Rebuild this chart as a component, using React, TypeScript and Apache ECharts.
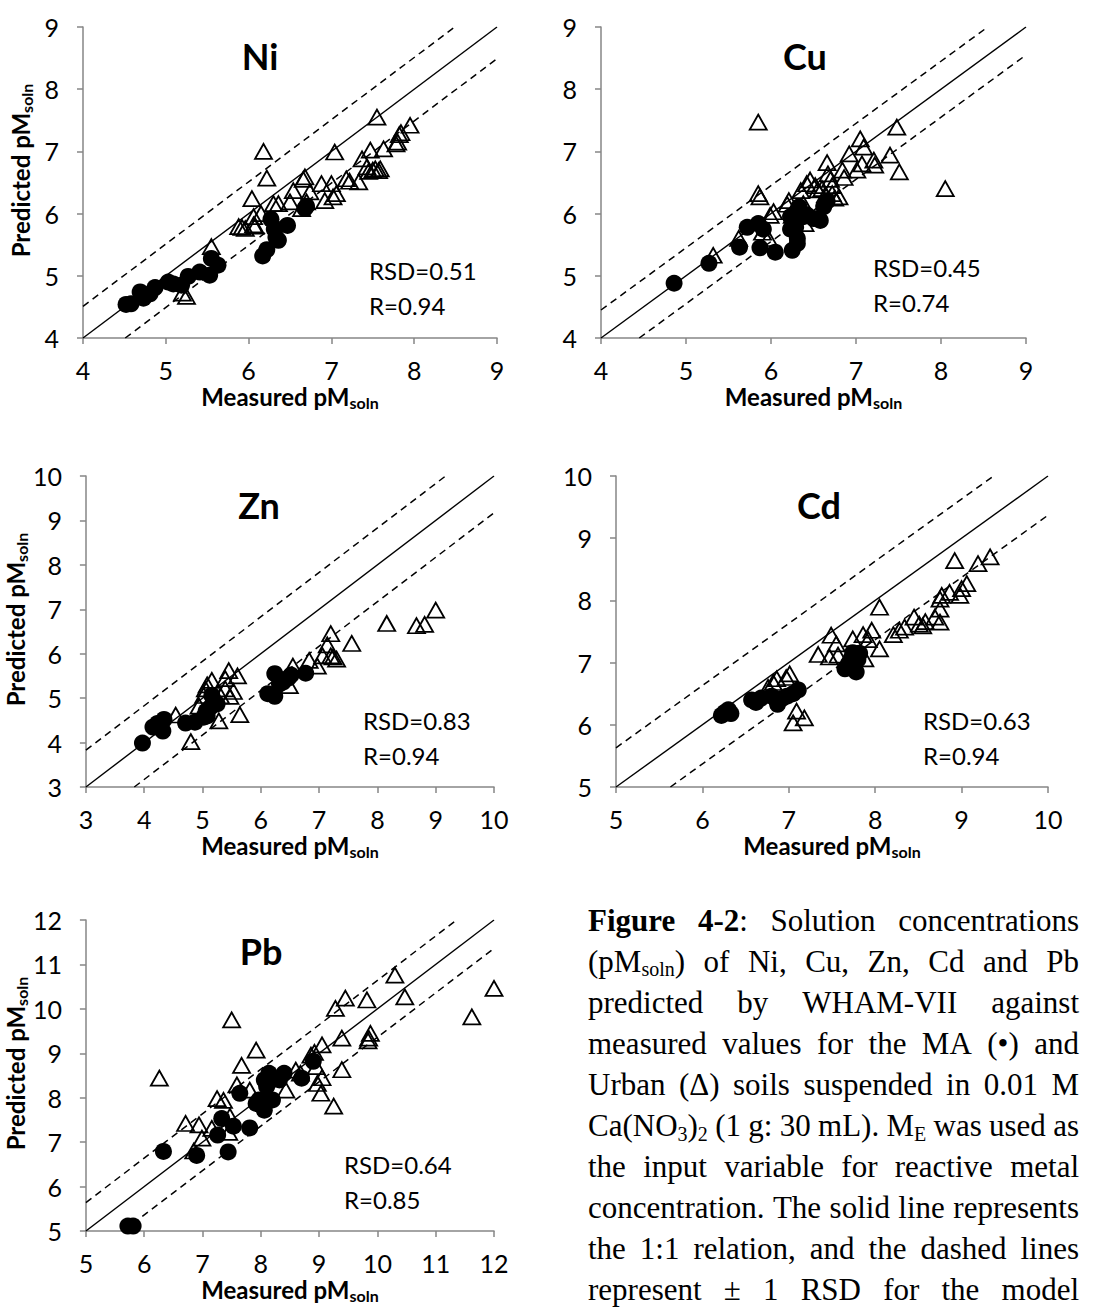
import React, { useEffect, useRef } from "react";
import * as echarts from "echarts";

// ---------------- data ----------------
const metals = ["Ni", "Cu", "Zn", "Cd", "Pb"];
const axisMin = [4, 4, 3, 5, 5];
const axisMax = [9, 9, 10, 10, 12];
const rsdValues = [0.51, 0.45, 0.83, 0.63, 0.64];
const rValues = [0.94, 0.74, 0.94, 0.94, 0.85];
const showYName = [true, false, true, false, true];

const niMA = [
  [4.52, 4.54], [4.58, 4.55], [4.69, 4.74], [4.73, 4.64], [4.81, 4.71], [4.87, 4.81],
  [5.03, 4.9], [5.09, 4.87], [5.19, 4.85], [5.27, 4.99], [5.41, 5.06], [5.53, 5.01],
  [5.55, 5.28], [5.63, 5.17], [6.17, 5.32], [6.22, 5.42], [6.27, 5.91], [6.31, 5.75],
  [6.33, 5.62], [6.36, 5.57], [6.47, 5.81], [6.68, 6.08], [6.7, 6.12],
];
const niUrban = [
  [5.2, 4.72], [5.25, 4.67], [5.55, 5.47], [5.88, 5.79], [5.92, 5.78], [5.96, 5.76],
  [6.06, 5.82], [6.08, 5.8], [6.04, 6.24], [6.06, 5.95], [6.18, 7.0], [6.22, 6.57],
  [6.15, 6.0], [6.3, 6.16], [6.36, 6.16], [6.5, 6.19], [6.54, 6.37], [6.64, 6.08],
  [6.66, 6.55], [6.68, 6.59], [6.7, 6.19], [6.74, 6.35], [6.88, 6.48], [6.92, 6.21],
  [7.0, 6.48], [7.02, 6.27], [7.06, 6.32], [7.04, 6.99], [7.18, 6.56], [7.22, 6.52],
  [7.33, 6.51], [7.37, 6.88], [7.47, 7.02], [7.43, 6.75], [7.45, 6.68], [7.5, 6.7],
  [7.53, 6.72], [7.57, 6.69], [7.59, 6.72], [7.55, 7.55], [7.63, 7.04], [7.78, 7.12],
  [7.8, 7.15], [7.82, 7.27], [7.84, 7.3], [7.95, 7.42],
];
const cuMA = [
  [4.86, 4.88], [5.27, 5.2], [5.63, 5.46], [5.72, 5.78], [5.85, 5.84], [5.87, 5.45],
  [5.91, 5.75], [6.05, 5.38], [6.23, 5.95], [6.25, 5.41], [6.31, 5.52], [6.31, 5.6],
  [6.23, 5.75], [6.27, 5.85], [6.3, 6.03], [6.33, 6.11], [6.38, 5.95], [6.42, 5.98],
  [6.5, 5.92], [6.58, 5.89], [6.62, 6.11], [6.66, 6.2], [6.29, 5.78],
];
const cuUrban = [
  [5.32, 5.33], [5.62, 5.6], [5.85, 7.47], [5.85, 6.32], [5.87, 6.27], [5.9, 5.7],
  [5.97, 5.6], [5.99, 5.97], [6.03, 6.03], [6.21, 6.21], [6.19, 6.15], [6.25, 5.97],
  [6.35, 6.37], [6.42, 6.48], [6.46, 6.54], [6.52, 6.45], [6.55, 6.38], [6.38, 6.16],
  [6.4, 5.84], [6.66, 6.82], [6.67, 6.64], [6.7, 6.55], [6.72, 6.45], [6.72, 6.32],
  [6.75, 6.25], [6.84, 6.7], [6.86, 6.58], [6.8, 6.27], [6.92, 6.96], [7.01, 6.7],
  [7.05, 7.2], [7.09, 7.07], [7.07, 6.8], [7.21, 6.86], [7.22, 6.78], [7.4, 6.94],
  [7.48, 7.39], [7.51, 6.67], [8.05, 6.4], [6.6, 6.4], [6.64, 6.3],
];
const znMA = [
  [3.97, 3.99], [4.15, 4.35], [4.23, 4.43], [4.34, 4.52], [4.32, 4.26], [4.71, 4.44],
  [4.87, 4.46], [5.02, 4.57], [5.08, 4.6], [5.14, 4.8], [5.19, 4.95], [5.25, 4.87],
  [5.06, 4.7], [5.16, 5.06], [6.12, 5.1], [6.24, 5.04], [6.24, 5.55], [6.32, 5.32],
  [6.38, 5.36], [6.47, 5.45], [6.52, 5.52], [6.77, 5.56],
];
const znUrban = [
  [4.54, 4.62], [4.8, 4.02], [4.94, 4.82], [5.02, 5.06], [5.05, 5.21], [5.08, 5.3],
  [5.16, 5.4], [5.28, 4.49], [5.31, 5.05], [5.39, 5.21], [5.39, 5.44], [5.45, 5.62],
  [5.47, 5.04], [5.53, 5.15], [5.6, 5.5], [5.64, 4.63], [6.49, 5.28], [6.55, 5.72],
  [6.83, 5.85], [6.97, 5.72], [7.06, 5.95], [7.14, 6.2], [7.2, 6.45], [7.2, 5.95],
  [7.24, 5.93], [7.3, 5.88], [7.56, 6.23], [8.16, 6.68], [8.67, 6.63], [8.81, 6.66],
  [9.0, 6.98],
];
const cdMA = [
  [6.22, 6.15], [6.26, 6.2], [6.3, 6.24], [6.33, 6.18], [6.57, 6.4], [6.62, 6.36],
  [6.68, 6.43], [6.8, 6.46], [6.87, 6.33], [6.92, 6.42], [6.98, 6.46], [7.05, 6.5],
  [7.11, 6.56], [7.65, 6.9], [7.69, 6.98], [7.72, 7.06], [7.74, 7.16], [7.76, 6.93],
  [7.78, 6.85], [7.8, 7.05], [7.82, 7.15],
];
const cdUrban = [
  [6.76, 6.6], [6.82, 6.68], [6.86, 6.74], [6.97, 6.76], [7.01, 6.82], [7.05, 6.03],
  [7.09, 6.22], [7.18, 6.11], [7.34, 7.13], [7.47, 7.09], [7.49, 7.44], [7.55, 7.3],
  [7.57, 7.12], [7.74, 7.38], [7.88, 7.06], [7.86, 7.45], [7.92, 7.37], [7.96, 7.52],
  [8.05, 7.22], [8.05, 7.89], [8.21, 7.45], [8.28, 7.52], [8.34, 7.57], [8.45, 7.73],
  [8.51, 7.62], [8.55, 7.59], [8.58, 7.66], [8.69, 7.73], [8.75, 7.65], [8.75, 7.86],
  [8.75, 8.02], [8.77, 8.08], [8.86, 8.13], [8.92, 8.64], [8.98, 8.08], [9.0, 8.19],
  [9.06, 8.27], [9.19, 8.59], [9.33, 8.7],
];
const pbMA = [
  [5.72, 5.11], [5.81, 5.11], [6.33, 6.79], [6.9, 6.7], [7.26, 7.16], [7.33, 7.53],
  [7.53, 7.36], [7.44, 6.78], [7.64, 8.1], [7.81, 7.32], [7.92, 7.87], [7.97, 7.95],
  [8.06, 7.72], [8.06, 8.4], [8.14, 8.55], [8.1, 8.25], [8.2, 7.95], [8.32, 8.4],
  [8.4, 8.55], [8.7, 8.44], [8.9, 8.82],
];
const pbUrban = [
  [6.26, 8.44], [6.71, 7.42], [6.85, 6.8], [6.94, 7.39], [6.99, 7.09], [7.16, 7.31],
  [7.25, 7.98], [7.36, 7.94], [7.45, 7.22], [7.47, 7.58], [7.5, 9.75], [7.59, 8.29],
  [7.67, 8.73], [7.81, 8.17], [7.92, 9.07], [8.43, 8.17], [8.6, 8.62], [8.68, 8.55],
  [8.86, 8.96], [8.92, 9.02], [8.95, 8.7], [8.97, 8.32], [9.03, 8.1], [9.05, 8.45],
  [9.05, 9.19], [9.25, 7.81], [9.28, 10.01], [9.45, 10.24], [9.39, 9.34], [9.39, 8.63],
  [9.82, 10.2], [9.85, 9.34], [9.88, 9.45], [9.84, 9.28], [10.3, 10.76], [10.47, 10.27],
  [11.62, 9.82], [12.0, 10.46],
];
const maData = [niMA, cuMA, znMA, cdMA, pbMA];
const urbanData = [niUrban, cuUrban, znUrban, cdUrban, pbUrban];

const captionLines = [
  "*{Figure} *{4-2}: Solution concentrations",
  "(pM_{soln}) of Ni, Cu, Zn, Cd and Pb",
  "predicted by WHAM-VII against",
  "measured values for the MA (•) and",
  "Urban (Δ) soils suspended in 0.01 M",
  "Ca(NO_{3})_{2} (1 g: 30 mL). M_{E} was used as",
  "the input variable for reactive metal",
  "concentration. The solid line represents",
  "the 1:1 relation, and the dashed lines",
  "represent ± 1 RSD for the model",
];

// ---------------- layout ----------------
const GRIDS = [
  { left: 83, top: 27, width: 414, height: 311 },
  { left: 601, top: 27, width: 425, height: 311 },
  { left: 81, top: 476, width: 413, height: 311 },
  { left: 616, top: 476, width: 432, height: 311 },
  { left: 81, top: 920, width: 413, height: 311 },
];
const TITLE_POS = [[260, 56], [805, 56], [259, 505], [819, 505], [261, 951]];
const STAT_POS = [[369, 270], [873, 267], [363, 720], [923, 720], [344, 1164]];
const STAT_GAP = 35;

const SANS = 'Lato, "Open Sans", sans-serif';
const SERIF = '"Liberation Serif", "Times New Roman", serif';
const AXIS = "#868686";

const CAP_LEFT = 588;
const CAP_RIGHT = 1079;
const CAP_Y0 = 920;
const CAP_DY = 41.1;
const CAP_KIND: Record<string, { size: number; weight: string; dy: number }> = {
  n: { size: 31, weight: "normal", dy: 0 },
  b: { size: 31, weight: "bold", dy: 0 },
  s: { size: 20, weight: "normal", dy: 8 },
};

function capFont(k: string) {
  const c = CAP_KIND[k];
  return `${c.weight} ${c.size}px ${SERIF}`;
}

function parseWord(w: string) {
  const segs: { t: string; k: string }[] = [];
  const re = /([_*])\{([^}]*)\}|([^_*]+)/g;
  let m: RegExpExecArray | null;
  while ((m = re.exec(w))) {
    if (m[3]) segs.push({ t: m[3], k: "n" });
    else segs.push({ t: m[2], k: m[1] === "_" ? "s" : "b" });
  }
  return segs;
}

function buildCaption() {
  const canvas = document.createElement("canvas");
  const ctx = canvas.getContext("2d");
  const measure = (t: string, k: string) => {
    if (!ctx) return t.length * CAP_KIND[k].size * 0.45;
    ctx.font = capFont(k);
    return ctx.measureText(t).width;
  };
  const els: any[] = [];
  captionLines.forEach((line, li) => {
    const words = line.split(" ").map(parseWord);
    const widths = words.map((ws) => ws.reduce((a, s) => a + measure(s.t, s.k), 0));
    const total = widths.reduce((a, b) => a + b, 0);
    const gap = words.length > 1 ? (CAP_RIGHT - CAP_LEFT - total) / (words.length - 1) : 0;
    const y = CAP_Y0 + li * CAP_DY;
    let x = CAP_LEFT;
    words.forEach((ws, wi) => {
      let sx = x;
      ws.forEach((s) => {
        els.push({
          type: "text",
          x: sx,
          y: y + CAP_KIND[s.k].dy,
          silent: true,
          style: {
            text: s.t,
            font: capFont(s.k),
            fill: "#000",
            textAlign: "left",
            textVerticalAlign: "middle",
            align: "left",
            verticalAlign: "middle",
          },
        });
        sx += measure(s.t, s.k);
      });
      x += widths[wi] + gap;
    });
  });
  return els;
}

function nameStyle(vertical: boolean) {
  return {
    color: "#000",
    fontFamily: SANS,
    fontWeight: "bold",
    fontSize: 24,
    lineHeight: 28,
    padding: vertical ? [0, 0, 0, 24] : 0,
    rich: {
      s: {
        color: "#000",
        fontFamily: SANS,
        fontWeight: "bold",
        fontSize: 16,
        lineHeight: 6,
        verticalAlign: "bottom",
      },
    },
  };
}

function buildOption() {
  const xAxis = metals.map((m, i) => ({
    gridIndex: i,
    type: "value",
    min: axisMin[i],
    max: axisMax[i],
    interval: 1,
    axisLine: { show: true, onZero: false, lineStyle: { color: AXIS, width: 1.5 } },
    axisTick: { show: true, length: 6, lineStyle: { color: AXIS, width: 1.5 } },
    axisLabel: { color: "#000", fontFamily: SANS, fontSize: 25, margin: 19 },
    splitLine: { show: false },
    name: "Measured pM{s|soln}",
    nameLocation: "middle",
    nameGap: 36,
    nameTextStyle: nameStyle(false),
  }));
  const yAxis = metals.map((m, i) => ({
    gridIndex: i,
    type: "value",
    min: axisMin[i],
    max: axisMax[i],
    interval: 1,
    axisLine: { show: true, onZero: false, lineStyle: { color: AXIS, width: 1.5 } },
    axisTick: { show: true, length: 6, lineStyle: { color: AXIS, width: 1.5 } },
    axisLabel: { color: "#000", fontFamily: SANS, fontSize: 25, margin: 24 },
    splitLine: { show: false },
    name: showYName[i] ? "Predicted pM{s|soln}" : "",
    nameLocation: "middle",
    nameGap: 49,
    nameTextStyle: nameStyle(true),
  }));

  const series: any[] = [];
  metals.forEach((m, i) => {
    const a = axisMin[i];
    const b = axisMax[i];
    const r = rsdValues[i];
    const lineBase = {
      type: "line",
      xAxisIndex: i,
      yAxisIndex: i,
      symbol: "none",
      silent: true,
      z: 1,
    };
    series.push({ ...lineBase, name: m + " 1:1", data: [[a, a], [b, b]], lineStyle: { color: "#000", width: 1.4, opacity: 1 } });
    series.push({ ...lineBase, name: m + " +RSD", data: [[a, a + r], [b - r, b]], lineStyle: { color: "#000", width: 1.5, type: [7, 5], opacity: 1 } });
    series.push({ ...lineBase, name: m + " -RSD", data: [[a + r, a], [b, b - r]], lineStyle: { color: "#000", width: 1.5, type: [7, 5], opacity: 1 } });
    series.push({
      type: "scatter",
      name: m + " MA",
      xAxisIndex: i,
      yAxisIndex: i,
      data: maData[i],
      symbol: "circle",
      symbolSize: 17,
      clip: false,
      silent: true,
      itemStyle: { color: "#000", opacity: 1 },
      z: 2,
    });
    series.push({
      type: "scatter",
      name: m + " Urban",
      xAxisIndex: i,
      yAxisIndex: i,
      data: urbanData[i],
      symbol: "triangle",
      symbolSize: [17, 15],
      clip: false,
      silent: true,
      itemStyle: { color: "rgba(255,255,255,0)", borderColor: "#000", borderWidth: 1.8, opacity: 1 },
      z: 3,
    });
  });

  const graphics: any[] = [];
  metals.forEach((m, i) => {
    graphics.push({
      type: "text",
      x: TITLE_POS[i][0],
      y: TITLE_POS[i][1],
      silent: true,
      style: {
        text: m,
        font: `bold 36px ${SANS}`,
        fill: "#000",
        textAlign: "center",
        textVerticalAlign: "middle",
        align: "center",
        verticalAlign: "middle",
      },
    });
    const stats = [`RSD=${rsdValues[i].toFixed(2)}`, `R=${rValues[i].toFixed(2)}`];
    stats.forEach((t, k) => {
      graphics.push({
        type: "text",
        x: STAT_POS[i][0],
        y: STAT_POS[i][1] + k * STAT_GAP,
        silent: true,
        style: {
          text: t,
          font: `24px ${SANS}`,
          fill: "#000",
          textAlign: "left",
          textVerticalAlign: "middle",
          align: "left",
          verticalAlign: "middle",
        },
      });
    });
  });
  graphics.push(...buildCaption());

  return {
    animation: false,
    backgroundColor: "#fff",
    grid: GRIDS.map((g) => ({ ...g, containLabel: false })),
    xAxis,
    yAxis,
    series,
    graphic: { elements: graphics },
  };
}

export default function App() {
  const ref = useRef<HTMLDivElement>(null);
  useEffect(() => {
    if (!ref.current) return;
    const chart = echarts.init(ref.current, undefined, { renderer: "svg" });
    chart.setOption(buildOption() as any);
    return () => chart.dispose();
  }, []);
  return (
    <div
      ref={ref}
      style={{ position: "absolute", left: 0, top: 0, width: 1099, height: 1307, background: "#fff" }}
    />
  );
}
